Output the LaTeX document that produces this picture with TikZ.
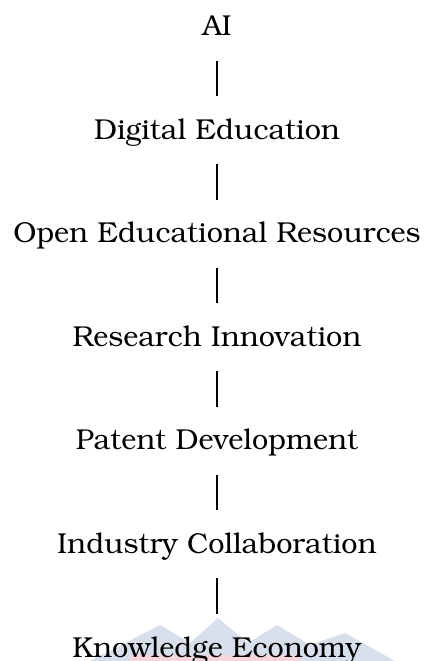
\documentclass[tikz,border=0pt]{standalone}
\usepackage[T1]{fontenc}
\usepackage{bookman}
\definecolor{peakblue}{RGB}{216,223,236}
\definecolor{bandpink}{RGB}{246,214,218}
\tikzset{
  stage/.style={anchor=base, inner sep=0pt, font=\fontsize{28.8}{34}\selectfont},
  bar/.style={line width=2.2pt, shorten <=25pt, shorten >=43pt}
}
\begin{document}
\begin{tikzpicture}[x=1pt,y=1pt]
        \useasboundingbox (0,0) rectangle (427,661);
        \fill [peakblue] (90,0) -- (160,36) -- (190,18) -- (218,43) -- (248,18) -- (277,36) -- (310,16) -- (345,28) -- (395,0) -- cycle;
        \fill [bandpink] (130,0) rectangle (300,6);
        \node [stage] (ai) at (217,625) {AI};
        \node [stage] (de) at (217,521.5) {Digital Education};
        \node [stage] (oer) at (217,418) {Open Educational Resources};
        \node [stage] (ri) at (217,314.5) {Research Innovation};
        \node [stage] (pd) at (217,211) {Patent Development};
        \node [stage] (ic) at (217,107.5) {Industry Collaboration};
        \node [stage] (ke) at (217,4) {Knowledge Economy};
        \draw [bar] (ai.base) -- (de.base);
        \draw [bar] (de.base) -- (oer.base);
        \draw [bar] (oer.base) -- (ri.base);
        \draw [bar] (ri.base) -- (pd.base);
        \draw [bar] (pd.base) -- (ic.base);
        \draw [bar] (ic.base) -- (ke.base);
\end{tikzpicture}
\end{document}
